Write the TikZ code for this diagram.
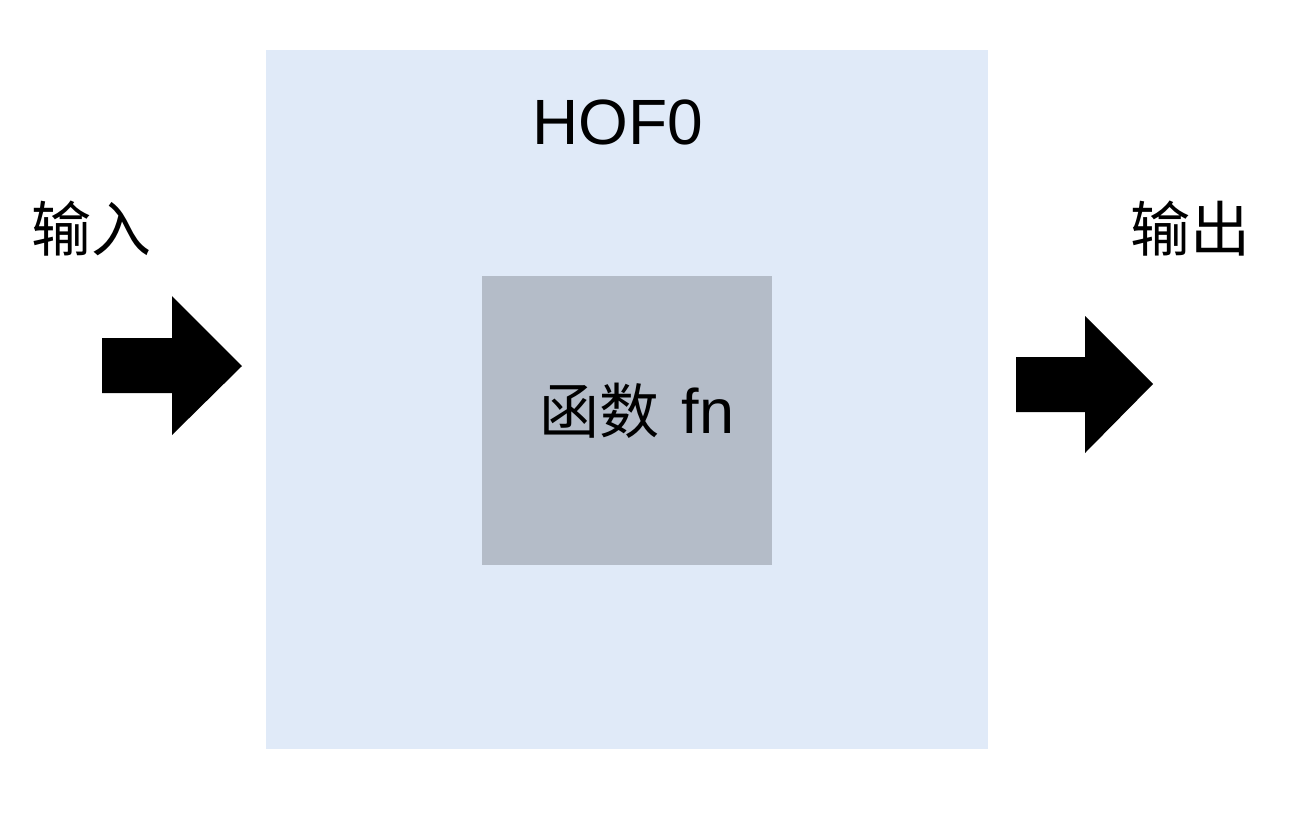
\documentclass[tikz,border=0pt]{standalone}
\usepackage{fontspec}
\setmainfont{Liberation Sans}
\newfontfamily\cjk{Noto Sans CJK SC}
\definecolor{outerblue}{HTML}{E0EAF8}
\definecolor{innergray}{HTML}{B4BCC8}
\begin{document}
\begin{tikzpicture}[x=1pt,y=-1pt,
  lbl/.style={inner sep=0pt, text=black, font=\fontsize{60}{72}\selectfont},
  blockarrow/.style={fill=black}]
\useasboundingbox (0,0) rectangle (1294,820);
\fill[outerblue] (266,50) rectangle (988,749);
\fill[innergray] (482,276) rectangle (772,565);
\node[lbl, font=\fontsize{64}{72}\selectfont] (hof) at (618,122) {HOF0};
\node[lbl] (fn) at (637,411) {\cjk 函数\hspace{22pt}\rmfamily\fontsize{63}{72}\selectfont fn};
\node[lbl] (in) at (91,229) {\cjk 输入};
\node[lbl] (out) at (1190,229) {\cjk 输出};
% input arrow
\fill[blockarrow] (102,338) -- (172,338) -- (172,296) -- (242,366) -- (172,435) -- (172,393) -- (102,393) -- cycle;
% output arrow
\fill[blockarrow] (1016,357) -- (1085,357) -- (1085,316) -- (1153,384) -- (1085,453) -- (1085,412) -- (1016,412) -- cycle;
\end{tikzpicture}
\end{document}
